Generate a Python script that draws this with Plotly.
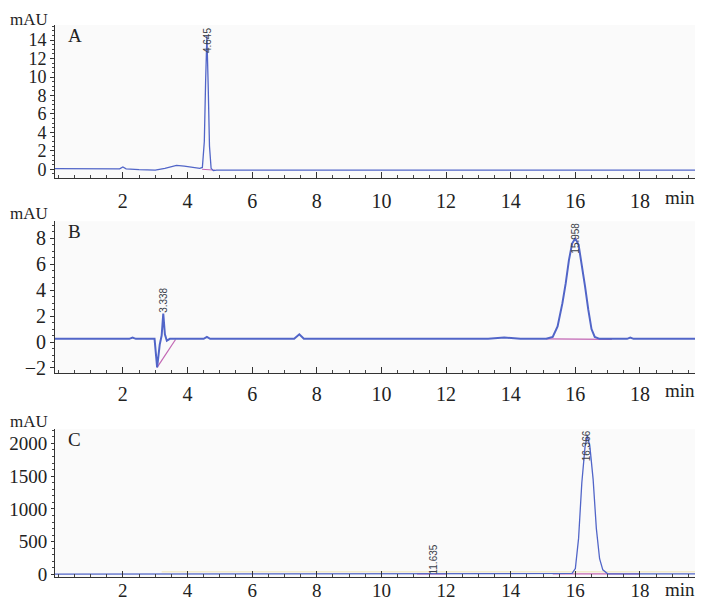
import plotly.graph_objects as go

# ---------------- data ----------------
A_time = [-0.1, 0.5, 1.0, 1.5, 1.9, 2.0, 2.1, 2.5, 3.0, 3.3, 3.66, 3.9, 4.2, 4.38,
          4.46, 4.52, 4.56, 4.60, 4.64, 4.68, 4.73, 4.80, 4.90, 5.5, 8.0, 12.0, 16.0, 19.95]
A_signal = [0.07, 0.05, 0.0, 0.0, 0.05, 0.25, 0.05, -0.05, -0.1, 0.1, 0.43, 0.35, 0.15, 0.1,
            0.2, 3.0, 9.5, 14.5, 9.0, 2.5, 0.1, -0.15, -0.1, -0.1, -0.1, -0.1, -0.1, -0.1]
A_base_time = [4.45, 4.85]
A_base_signal = [0.0, -0.1]

B_time = [-0.1, 1.0, 2.2, 2.3, 2.4, 2.98, 3.06, 3.14, 3.2, 3.25, 3.3, 3.36, 3.45, 3.9,
          4.5, 4.6, 4.7, 5.0, 7.3, 7.46, 7.6, 9.5, 13.3, 13.8, 14.3, 15.1, 15.3, 15.45,
          15.6, 15.7, 15.8, 15.9, 16.0, 16.1, 16.2, 16.3, 16.4, 16.5, 16.6, 16.75, 17.6,
          17.7, 17.8, 19.95]
B_signal = [0.25, 0.25, 0.25, 0.35, 0.25, 0.25, -1.95, -0.2, 0.5, 2.2, 0.6, 0.1, 0.25, 0.25,
            0.25, 0.4, 0.25, 0.25, 0.25, 0.6, 0.25, 0.25, 0.25, 0.35, 0.25, 0.25, 0.4, 1.2,
            3.0, 4.5, 6.3, 7.6, 8.0, 7.5, 6.0, 4.3, 2.5, 1.0, 0.4, 0.25, 0.25,
            0.35, 0.25, 0.25]
B_base1_time = [3.06, 3.63]
B_base1_signal = [-1.95, 0.2]
B_base2_time = [15.1, 17.13]
B_base2_signal = [0.25, 0.2]

C_time = [-0.1, 1.9, 2.0, 2.1, 3.2, 11.0, 11.6, 12.0, 15.3, 15.9, 16.0, 16.1, 16.2, 16.3,
          16.37, 16.45, 16.55, 16.65, 16.75, 16.85, 17.0, 18.0, 19.95]
C_signal = [5, 5, 12, 5, 8, 8, 10, 8, 8, 15, 90, 550, 1400, 1950, 2120, 1950, 1450, 700,
            240, 70, 10, 8, 8]
C_ref_time = [3.2, 19.95]
C_ref_signal = [40, 40]
C_base1_time = [11.1, 12.0]
C_base1_signal = [8, 8]
C_base2_time = [15.3, 18.0]
C_base2_signal = [8, 8]

peak_labels = [  # (panel, x, y, text)
    (1, 4.60, 14.0, "4.645"),
    (2, 3.25, 3.2, "3.338"),
    (2, 16.0, 8.0, "15.958"),
    (3, 16.37, 1960, "16.366"),
    (3, 11.6, 230, "11.635"),
]
x_tick_vals = [2, 4, 6, 8, 10, 12, 14, 16, 18]
y_ranges = [[-0.97, 15.63], [-2.41, 9.32], [-45, 2214]]
y_dticks = [2, 2, 500]
y_minor = [0.5, 0.5, 100]
panel_letters = ["A", "B", "C"]

# ---------------- figure ----------------
# The page body keeps its default 8px margin, so the figure is 16px smaller than the
# 703x609 window.  Vertical page positions are divided by VS to compensate the
# slight vertical squeeze seen in the photographed page.
OFF = 8
VS = 0.986
W, H = 703 - 2 * OFF, 609 - 2 * OFF
BLUE = "#5165c8"
MAG = "#c266b4"
SERIF = "Liberation Serif, Times New Roman, serif"

fig = go.Figure()

def add(x, y, n, color, width):
    fig.add_trace(go.Scatter(x=x, y=y, mode="lines", line=dict(color=color, width=width),
                             xaxis="x" if n == 1 else f"x{n}",
                             yaxis="y" if n == 1 else f"y{n}",
                             showlegend=False, hoverinfo="skip"))

add(A_base_time, A_base_signal, 1, MAG, 1)
add(A_time, A_signal, 1, BLUE, 1.3)
add(B_base1_time, B_base1_signal, 2, MAG, 1.2)
add(B_base2_time, B_base2_signal, 2, MAG, 1.2)
add(B_time, B_signal, 2, BLUE, 2)
add(C_ref_time, C_ref_signal, 3, "#efe4b4", 1)
add(C_base1_time, C_base1_signal, 3, MAG, 1.2)
add(C_base2_time, C_base2_signal, 3, MAG, 1.2)
add(C_time, C_signal, 3, BLUE, 1.3)

# target page-pixel boxes of each plot area (top, bottom)
boxes = [(25, 178), (221, 373), (429, 577)]
x_left = 55                     # page px of the y axis line
px_per_min = 32.32
x_end = -0.1 + (W + OFF - x_left) / px_per_min
x_standoff = [5, 3, -4]
x_font = [20, 20, 19]
y_font = [18, 20, 19]
y_ticklen = [4, 4, 3]
mau_y = [19, 213, 421]
min_y = [197, 390, 589]

def fx(px):
    return (px - OFF) / W

def fy(py):
    return 1 - (py / VS - OFF) / H

layout = dict(width=W, height=H, margin=dict(l=0, r=0, t=0, b=0),
              paper_bgcolor="white", plot_bgcolor="#fafafa",
              font=dict(family=SERIF, size=20, color="#222"))
annotations = []
for i, (top, bot) in enumerate(boxes):
    n = i + 1
    xs = "xaxis" if n == 1 else f"xaxis{n}"
    ys = "yaxis" if n == 1 else f"yaxis{n}"
    layout[xs] = dict(domain=[fx(x_left), 1], anchor="y" if n == 1 else f"y{n}",
                      range=[-0.1, x_end], tickvals=x_tick_vals, ticks="inside",
                      ticklen=6, tickcolor="#333", showline=True, linecolor="#333",
                      linewidth=1, showgrid=False, zeroline=False,
                      ticklabelstandoff=x_standoff[i],
                      tickfont=dict(family=SERIF, size=x_font[i], color="#222"),
                      minor=dict(dtick=0.5, tick0=0, ticks="inside", ticklen=3,
                                 tickcolor="#444", showgrid=False))
    layout[ys] = dict(domain=[fy(bot), fy(top)], anchor="x" if n == 1 else f"x{n}",
                      range=y_ranges[i], dtick=y_dticks[i], tick0=0, ticks="outside",
                      ticklen=y_ticklen[i], tickcolor="#333", showline=True, linecolor="#333",
                      linewidth=1, showgrid=False, zeroline=False,
                      tickfont=dict(family=SERIF, size=y_font[i], color="#222"),
                      minor=dict(dtick=y_minor[i], tick0=0, ticks="outside", ticklen=2,
                                 tickcolor="#444", showgrid=False))
    # mAU label
    annotations.append(dict(text="mAU", x=fx(29), y=fy(mau_y[i]), xref="paper",
                            yref="paper", showarrow=False, xanchor="center", yanchor="middle",
                            font=dict(family=SERIF, size=17, color="#222")))
    # panel letter
    annotations.append(dict(text=panel_letters[i], x=fx(x_left + 11), y=fy(top + 10),
                            xref="paper", yref="paper", showarrow=False, xanchor="left",
                            yanchor="middle", font=dict(family=SERIF, size=19, color="#222")))
    # min label
    annotations.append(dict(text="min", x=fx(680), y=fy(min_y[i]), xref="paper",
                            yref="paper", showarrow=False, xanchor="center", yanchor="middle",
                            font=dict(family=SERIF, size=19, color="#222")))

for n, x, y, t in peak_labels:
    annotations.append(dict(text=t, x=x, y=y, xref="x" if n == 1 else f"x{n}",
                            yref="y" if n == 1 else f"y{n}", showarrow=False,
                            textangle=-90, xanchor="center", yanchor="middle",
                            font=dict(family="Liberation Sans, Arial, sans-serif", size=10,
                                      color="#3a3f4a")))

layout["annotations"] = annotations
fig.update_layout(**layout)
fig.write_html("out.html", config={"displayModeBar": False})
